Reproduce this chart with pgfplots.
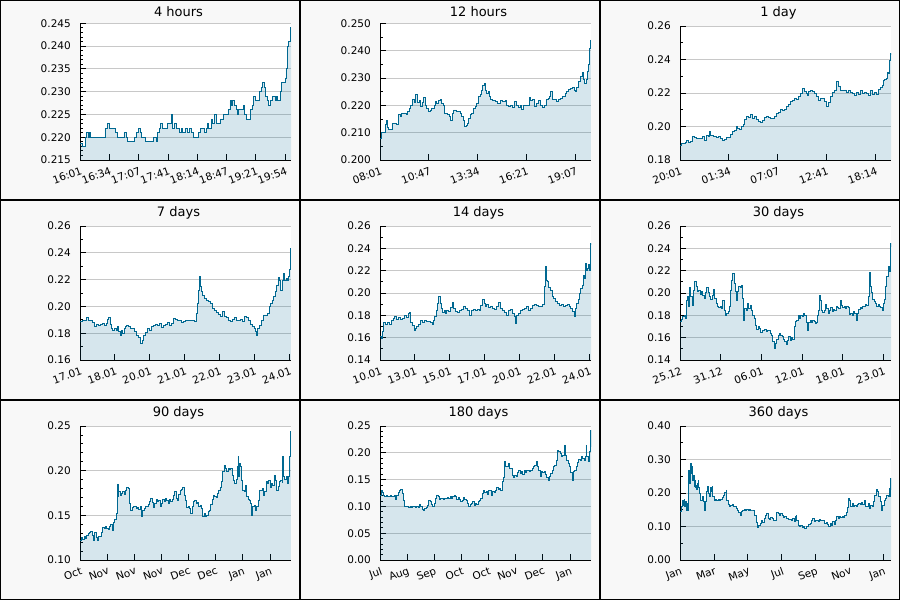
\documentclass[border=0pt]{standalone}
\usepackage{fontspec}
\setmainfont{DejaVu Sans}
\usepackage{pgfplots}
\usepackage{pgfplotstable}
\pgfplotsset{compat=1.18}

\definecolor{lineblue}{RGB}{0,104,145}
\definecolor{panelbg}{RGB}{248,248,248}
\definecolor{gridgray}{RGB}{200,200,200}

% 4 hours (x in minutes from 16:01)
\pgfplotstableread{
x y
0 0.2187
3.0 0.2180
5.7 0.2200
7.6 0.2210
9.5 0.2200
10.6 0.2210
12.1 0.2200
28.4 0.2220
31.1 0.2230
33.4 0.2220
39.8 0.2210
42.5 0.2200
50.0 0.2210
52.3 0.2200
54.2 0.2190
61.8 0.2200
63.7 0.2210
66.4 0.2220
68.2 0.2210
70.1 0.2200
74.3 0.2190
83.4 0.2200
86.4 0.2190
88.0 0.2210
90.2 0.2220
91.8 0.2230
93.3 0.2220
99.3 0.2230
103.9 0.2250
105.4 0.2220
107.7 0.2230
110.0 0.2220
113.0 0.2210
115.6 0.2220
116.8 0.2210
119.4 0.2220
122.1 0.2210
124.4 0.2220
126.6 0.2210
128.9 0.2200
134.6 0.2210
136.5 0.2220
141.0 0.2210
143.3 0.2220
144.8 0.2230
146.4 0.2220
149.8 0.2240
150.9 0.2230
152.8 0.2250
154.7 0.2230
159.2 0.2240
163.0 0.2250
168.3 0.2260
170.6 0.2280
172.1 0.2270
173.7 0.2280
175.5 0.2270
177.4 0.2260
179.0 0.2250
180.5 0.2260
186.2 0.2270
187.3 0.2250
188.8 0.2240
193.4 0.2260
195.6 0.2270
197.2 0.2290
199.1 0.2280
204.0 0.2300
205.9 0.2310
207.8 0.2320
209.7 0.2310
211.2 0.2290
213.1 0.2280
214.6 0.2270
216.9 0.2280
218.4 0.2290
222.2 0.2280
222.9 0.2290
224.5 0.2280
228.2 0.2300
229.4 0.2320
233.2 0.2330
234.3 0.2350
235.8 0.2400
237.0 0.2410
239.2 0.2440
240 0.2440
}\tabA

% 12 hours (x in minutes from 08:01)
\pgfplotstableread{
x y
0 0.2080
5.7 0.2100
17.1 0.2130
20.5 0.2146
25.0 0.2120
28.4 0.2110
40.9 0.2134
56.9 0.2130
62.6 0.2165
68.2 0.2160
73.9 0.2170
81.9 0.2172
88.7 0.2165
93.3 0.2177
100.1 0.2190
104.6 0.2200
111.5 0.2220
116.0 0.2210
121.7 0.2238
127.4 0.2210
134.2 0.2217
138.8 0.2195
143.3 0.2210
147.9 0.2228
153.5 0.2200
159.2 0.2189
166.1 0.2177
170.6 0.2183
175.2 0.2190
184.3 0.2201
188.8 0.2213
193.4 0.2207
200.2 0.2217
204.7 0.2220
210.4 0.2207
216.1 0.2198
220.7 0.2171
229.8 0.2165
236.6 0.2159
241.2 0.2146
245.7 0.2171
250.2 0.2183
261.6 0.2177
273.0 0.2171
278.7 0.2159
284.4 0.2144
288.9 0.2122
293.5 0.2128
298.0 0.2134
302.6 0.2152
307.1 0.2165
312.8 0.2172
318.5 0.2189
324.2 0.2195
329.8 0.2207
335.5 0.2232
341.2 0.2238
346.9 0.2256
350.3 0.2271
354.9 0.2281
359.4 0.2256
364.0 0.2244
368.5 0.2250
373.1 0.2232
377.6 0.2222
384.4 0.2217
392.4 0.2213
400.4 0.2207
409.5 0.2217
418.6 0.2213
426.5 0.2217
432.2 0.2198
439.0 0.2195
445.9 0.2198
452.7 0.2193
457.3 0.2213
464.1 0.2198
470.9 0.2193
477.7 0.2201
483.4 0.2186
489.1 0.2198
495.9 0.2201
502.7 0.2198
509.6 0.2229
514.1 0.2217
520.9 0.2220
527.7 0.2195
534.6 0.2207
541.4 0.2217
545.9 0.2198
552.8 0.2193
559.6 0.2201
566.4 0.2220
573.2 0.2226
577.8 0.2232
582.3 0.2250
586.8 0.2220
600.5 0.2213
608.5 0.2222
614.2 0.2226
621.0 0.2232
631.2 0.2244
636.9 0.2250
643.7 0.2259
650.6 0.2262
657.4 0.2265
661.9 0.2256
666.5 0.2250
671.0 0.2265
677.8 0.2287
684.7 0.2305
689.2 0.2320
693.8 0.2293
698.3 0.2281
702.9 0.2293
707.4 0.2323
712.0 0.2348
715.4 0.2409
717.7 0.2439
720 0.2439
}\tabB

% 1 day (x in hours from 20:01)
\pgfplotstableread{
x y
0 0.1884
0.19 0.1896
0.38 0.1896
0.61 0.1904
0.76 0.1915
0.95 0.1904
1.21 0.1909
1.36 0.1939
1.59 0.1935
1.90 0.1929
2.27 0.1929
2.58 0.1939
2.73 0.1919
2.96 0.1949
3.18 0.1943
3.34 0.1973
3.49 0.1949
3.79 0.1939
4.09 0.1933
4.36 0.1943
4.63 0.1929
4.85 0.1919
5.08 0.1923
5.31 0.1935
5.54 0.1935
5.76 0.1955
5.99 0.1969
6.22 0.1979
6.37 0.1999
6.56 0.1989
6.75 0.1983
6.98 0.1999
7.20 0.2015
7.36 0.2043
7.58 0.2059
7.81 0.2055
8.04 0.2069
8.27 0.2049
8.49 0.2063
8.72 0.2043
8.95 0.2029
9.18 0.2023
9.40 0.2039
9.63 0.2055
9.86 0.2063
10.09 0.2055
10.31 0.2049
10.54 0.2049
10.77 0.2063
11.00 0.2075
11.22 0.2083
11.45 0.2103
11.68 0.2095
11.91 0.2099
12.13 0.2118
12.36 0.2134
12.59 0.2148
12.82 0.2158
13.04 0.2168
13.27 0.2162
13.50 0.2182
13.73 0.2198
13.95 0.2228
14.10 0.2208
14.33 0.2198
14.48 0.2188
14.63 0.2208
14.86 0.2214
15.09 0.2208
15.32 0.2198
15.55 0.2178
15.77 0.2158
16.00 0.2168
16.23 0.2168
16.46 0.2148
16.68 0.2122
16.91 0.2142
17.14 0.2178
17.37 0.2202
17.59 0.2218
17.82 0.2268
18.05 0.2242
18.27 0.2214
18.50 0.2214
18.73 0.2218
18.96 0.2202
19.18 0.2214
19.41 0.2202
19.64 0.2198
19.87 0.2188
20.09 0.2202
20.32 0.2194
20.55 0.2214
20.78 0.2198
21.00 0.2202
21.23 0.2198
21.46 0.2188
21.69 0.2214
21.91 0.2194
22.14 0.2202
22.37 0.2194
22.60 0.2222
22.75 0.2234
22.98 0.2248
23.13 0.2274
23.28 0.2282
23.43 0.2288
23.58 0.2321
23.73 0.2317
23.85 0.2397
23.92 0.2437
24.0 0.2427
}\tabC

% 7 days (x in days from 17.01)
\pgfplotstableread{
x y
0 0.1886
0.088 0.1893
0.166 0.1898
0.221 0.1918
0.276 0.1898
0.354 0.1893
0.420 0.1883
0.464 0.1854
0.531 0.1869
0.597 0.1861
0.663 0.1869
0.730 0.1873
0.796 0.1861
0.863 0.1873
0.907 0.1903
0.951 0.1918
0.995 0.1869
1.039 0.1836
1.084 0.1819
1.128 0.1836
1.194 0.1824
1.238 0.1849
1.283 0.1811
1.327 0.1786
1.371 0.1824
1.415 0.1799
1.460 0.1836
1.504 0.1849
1.548 0.1859
1.614 0.1849
1.681 0.1836
1.747 0.1836
1.814 0.1811
1.880 0.1786
1.946 0.1769
1.990 0.1749
2.013 0.1724
2.057 0.1749
2.101 0.1786
2.167 0.1804
2.234 0.1836
2.300 0.1824
2.366 0.1849
2.433 0.1859
2.499 0.1869
2.565 0.1861
2.632 0.1873
2.698 0.1844
2.765 0.1861
2.831 0.1869
2.897 0.1878
2.964 0.1861
3.030 0.1873
3.096 0.1911
3.162 0.1903
3.229 0.1893
3.295 0.1898
3.362 0.1878
3.428 0.1886
3.494 0.1893
3.561 0.1893
3.627 0.1898
3.693 0.1893
3.760 0.1893
3.804 0.1886
3.848 0.1948
3.892 0.2023
3.926 0.2122
3.959 0.2222
3.981 0.2147
4.025 0.2110
4.069 0.2085
4.114 0.2060
4.180 0.2048
4.246 0.2035
4.313 0.2023
4.379 0.1985
4.445 0.1973
4.512 0.1953
4.578 0.1943
4.644 0.1923
4.711 0.1961
4.777 0.1923
4.843 0.1918
4.910 0.1893
4.976 0.1886
5.042 0.1903
5.109 0.1918
5.175 0.1893
5.242 0.1898
5.308 0.1903
5.374 0.1886
5.441 0.1923
5.507 0.1918
5.573 0.1898
5.640 0.1869
5.706 0.1849
5.772 0.1836
5.817 0.1811
5.850 0.1786
5.883 0.1836
5.949 0.1861
6.016 0.1893
6.082 0.1936
6.148 0.1936
6.215 0.1948
6.281 0.2003
6.325 0.2023
6.369 0.2048
6.414 0.2073
6.480 0.2110
6.524 0.2160
6.568 0.2217
6.613 0.2197
6.657 0.2122
6.701 0.2197
6.745 0.2247
6.790 0.2192
6.834 0.2209
6.878 0.2197
6.922 0.2222
6.944 0.2277
6.967 0.2296
6.978 0.2433
7.0 0.2433
}\tabD

% 14 days (x in days from 10.01)
\pgfplotstableread{
x y
0 0.1609
0.088 0.1594
0.177 0.1654
0.221 0.1734
0.354 0.1722
0.487 0.1734
0.619 0.1722
0.752 0.1752
0.885 0.1773
0.973 0.1794
1.062 0.1764
1.194 0.1782
1.327 0.1764
1.460 0.1773
1.592 0.1803
1.725 0.1782
1.858 0.1818
1.946 0.1824
2.035 0.1734
2.167 0.1713
2.256 0.1663
2.344 0.1684
2.433 0.1699
2.521 0.1722
2.654 0.1752
2.787 0.1734
2.919 0.1752
3.052 0.1743
3.185 0.1743
3.318 0.1734
3.450 0.1722
3.539 0.1752
3.627 0.1788
3.716 0.1848
3.804 0.1907
3.893 0.1967
3.981 0.1907
4.070 0.1863
4.158 0.1824
4.246 0.1842
4.335 0.1818
4.423 0.1848
4.512 0.1833
4.645 0.1872
4.777 0.1913
4.866 0.1863
4.998 0.1833
5.131 0.1824
5.264 0.1842
5.397 0.1854
5.529 0.1884
5.662 0.1863
5.795 0.1848
5.927 0.1803
6.060 0.1848
6.193 0.1854
6.325 0.1848
6.458 0.1854
6.591 0.1848
6.679 0.1893
6.812 0.1943
6.900 0.1907
6.989 0.1878
7.077 0.1901
7.210 0.1872
7.343 0.1884
7.476 0.1863
7.608 0.1854
7.741 0.1878
7.874 0.1913
7.962 0.1863
8.095 0.1848
8.228 0.1824
8.360 0.1803
8.493 0.1848
8.626 0.1854
8.758 0.1818
8.891 0.1788
8.980 0.1728
9.068 0.1803
9.201 0.1818
9.333 0.1848
9.466 0.1854
9.599 0.1863
9.731 0.1878
9.864 0.1848
9.997 0.1863
10.130 0.1893
10.262 0.1901
10.395 0.1893
10.528 0.1884
10.660 0.1884
10.793 0.1901
10.882 0.2057
10.970 0.2236
11.014 0.2116
11.103 0.2101
11.191 0.2051
11.280 0.2027
11.412 0.1967
11.501 0.1952
11.634 0.1922
11.766 0.1907
11.899 0.1893
12.032 0.1901
12.164 0.1884
12.297 0.1893
12.430 0.1901
12.562 0.1884
12.651 0.1863
12.784 0.1833
12.872 0.1794
12.961 0.1863
13.049 0.1907
13.137 0.1943
13.226 0.1997
13.314 0.2042
13.403 0.2072
13.491 0.2161
13.580 0.2131
13.624 0.2266
13.668 0.2206
13.757 0.2221
13.845 0.2260
13.889 0.2200
13.934 0.2281
13.956 0.2445
14 0.2430
}\tabE

% 30 days (x in days from 25.12)
\pgfplotstableread{
x y
0 0.1743
0.190 0.1764
0.379 0.1788
0.664 0.1803
0.758 0.1773
0.853 0.1937
1.043 0.1967
1.137 0.1878
1.327 0.2051
1.517 0.1967
1.706 0.1893
1.896 0.2027
2.085 0.2101
2.275 0.2057
2.464 0.2012
2.654 0.2027
2.844 0.1991
3.033 0.2012
3.223 0.1982
3.412 0.1952
3.602 0.2003
3.791 0.2051
3.981 0.2003
4.171 0.1967
4.360 0.1943
4.550 0.1982
4.739 0.2033
4.929 0.1952
5.118 0.1907
5.308 0.1884
5.498 0.1872
5.687 0.1878
5.877 0.1863
6.066 0.1937
6.256 0.1848
6.445 0.1803
6.635 0.1818
6.825 0.1833
7.014 0.1884
7.109 0.2027
7.299 0.2116
7.488 0.2176
7.678 0.2087
7.867 0.2012
7.962 0.1937
8.152 0.2012
8.341 0.2063
8.531 0.2051
8.720 0.2072
8.910 0.1952
9.005 0.1758
9.194 0.1863
9.384 0.1848
9.573 0.1907
9.763 0.1863
9.953 0.1893
10.142 0.1848
10.332 0.1803
10.521 0.1773
10.711 0.1713
10.900 0.1675
11.090 0.1699
11.280 0.1684
11.469 0.1645
11.659 0.1663
11.848 0.1663
12.038 0.1675
12.227 0.1654
12.417 0.1669
12.607 0.1663
12.796 0.1639
12.986 0.1624
13.175 0.1564
13.365 0.1504
13.554 0.1549
13.744 0.1585
13.934 0.1624
14.123 0.1639
14.313 0.1624
14.502 0.1609
14.692 0.1585
14.882 0.1564
15.071 0.1543
15.261 0.1579
15.450 0.1609
15.640 0.1579
15.829 0.1603
16.019 0.1585
16.209 0.1699
16.398 0.1743
16.588 0.1758
16.777 0.1803
16.967 0.1773
17.156 0.1803
17.346 0.1788
17.536 0.1818
17.725 0.1803
17.915 0.1734
18.104 0.1669
18.294 0.1734
18.483 0.1752
18.673 0.1734
18.863 0.1758
19.052 0.1743
19.242 0.1728
19.431 0.1734
19.526 0.1803
19.716 0.1848
19.810 0.1982
19.905 0.1937
20.095 0.1848
20.284 0.1824
20.474 0.1848
20.664 0.1901
20.853 0.1863
21.043 0.1818
21.232 0.1848
21.422 0.1872
21.611 0.1833
21.801 0.1854
21.991 0.1848
22.180 0.1878
22.370 0.1872
22.559 0.1863
22.749 0.1937
22.938 0.1893
23.128 0.1872
23.318 0.1884
23.507 0.1863
23.697 0.1884
23.886 0.1872
24.076 0.1812
24.265 0.1818
24.455 0.1803
24.645 0.1833
24.834 0.1818
25.024 0.1758
25.213 0.1818
25.403 0.1854
25.592 0.1872
25.782 0.1863
25.972 0.1884
26.161 0.1878
26.351 0.1901
26.540 0.1893
26.730 0.1907
26.825 0.1967
26.919 0.2182
27.014 0.2057
27.204 0.2003
27.393 0.1943
27.583 0.1922
27.773 0.1907
27.962 0.1884
28.152 0.1901
28.341 0.1878
28.531 0.1872
28.720 0.1842
28.910 0.1907
29.100 0.1943
29.194 0.2057
29.384 0.2152
29.573 0.2170
29.668 0.2236
29.763 0.2191
29.858 0.2325
29.905 0.2445
30 0.2415
}\tabF

% 90 days (x in days)
\pgfplotstableread{
x y
0 0.1224
0.569 0.1254
1.137 0.1231
1.706 0.1261
2.275 0.1243
2.844 0.1280
3.412 0.1299
3.981 0.1306
4.550 0.1317
5.118 0.1280
5.687 0.1224
6.256 0.1306
6.825 0.1254
7.393 0.1224
7.962 0.1261
8.531 0.1261
9.100 0.1306
9.668 0.1366
10.237 0.1354
10.806 0.1373
11.374 0.1354
11.943 0.1343
12.512 0.1381
13.081 0.1403
13.649 0.1328
14.218 0.1418
14.787 0.1455
15.355 0.1466
15.640 0.1522
15.924 0.1851
16.209 0.1709
16.493 0.1765
17.062 0.1728
17.630 0.1746
18.199 0.1765
18.768 0.1739
19.336 0.1784
19.905 0.1813
20.474 0.1802
21.043 0.1634
21.611 0.1560
22.180 0.1590
22.749 0.1597
23.318 0.1605
23.886 0.1578
24.455 0.1590
25.024 0.1567
25.592 0.1597
26.161 0.1493
26.730 0.1560
27.299 0.1578
27.867 0.1605
28.436 0.1597
29.005 0.1627
29.573 0.1653
30.142 0.1690
30.711 0.1642
31.280 0.1590
31.848 0.1634
32.417 0.1679
32.986 0.1653
33.555 0.1672
34.123 0.1605
34.692 0.1634
35.261 0.1679
35.829 0.1653
36.398 0.1690
36.967 0.1672
37.536 0.1634
38.104 0.1679
38.673 0.1653
39.242 0.1679
39.810 0.1728
40.379 0.1765
40.948 0.1690
41.517 0.1672
42.085 0.1739
42.654 0.1776
43.223 0.1791
43.791 0.1813
44.360 0.1728
44.929 0.1664
45.498 0.1590
46.066 0.1605
46.635 0.1578
47.204 0.1522
47.773 0.1597
48.341 0.1653
48.910 0.1672
49.479 0.1634
50.047 0.1642
50.616 0.1605
51.185 0.1616
51.754 0.1578
52.322 0.1493
52.891 0.1522
53.460 0.1485
54.028 0.1504
54.597 0.1541
55.166 0.1560
55.735 0.1627
56.303 0.1679
56.872 0.1728
57.441 0.1709
58.009 0.1702
58.578 0.1746
59.147 0.1784
59.716 0.1813
60.284 0.1877
60.853 0.1989
61.422 0.2063
61.991 0.2026
62.559 0.1989
63.128 0.2026
63.697 0.2015
64.265 0.2026
64.834 0.1951
65.403 0.1896
65.972 0.1858
66.540 0.1903
67.109 0.2045
67.393 0.2157
67.678 0.1933
67.962 0.2082
68.246 0.2045
68.815 0.1896
69.384 0.1784
69.953 0.1765
70.521 0.1840
71.090 0.1709
71.659 0.1679
72.227 0.1672
72.796 0.1634
73.223 0.1504
73.649 0.1597
74.218 0.1616
74.787 0.1560
75.355 0.1605
75.924 0.1672
76.493 0.1784
77.062 0.1776
77.630 0.1802
78.199 0.1728
78.768 0.1765
79.336 0.1877
79.905 0.1858
80.474 0.1888
81.043 0.1813
81.611 0.1858
82.180 0.1840
82.749 0.1951
83.318 0.1896
83.886 0.1784
84.455 0.1828
85.024 0.1877
85.592 0.1896
86.161 0.1866
86.445 0.2157
86.730 0.1933
87.299 0.1903
87.867 0.1933
88.436 0.1858
89.005 0.1940
89.289 0.2157
89.716 0.2437
90 0.2381
}\tabG

% 180 days (x in days)
\pgfplotstableread{
x y
0 0.1213
0.85 0.1294
1.71 0.1256
2.84 0.1213
3.98 0.1182
5.12 0.1213
6.26 0.1182
7.39 0.1194
8.53 0.1213
9.67 0.1182
10.81 0.1182
11.94 0.1213
13.08 0.1132
14.22 0.1213
15.36 0.1256
16.49 0.1306
17.63 0.1318
18.77 0.1244
19.91 0.1119
21.04 0.1007
22.18 0.0995
23.32 0.1007
24.46 0.0983
25.59 0.1007
26.73 0.0983
27.87 0.0995
29.00 0.1007
30.14 0.0983
31.28 0.1007
32.42 0.0983
33.55 0.1045
34.69 0.0995
35.83 0.0945
36.97 0.0933
38.10 0.0964
39.24 0.0983
40.38 0.1026
41.52 0.1119
42.65 0.1088
43.79 0.1045
44.93 0.1007
46.07 0.1057
47.20 0.1150
48.34 0.1213
49.48 0.1182
50.62 0.1132
51.75 0.1150
52.89 0.1150
54.03 0.1132
55.17 0.1150
56.30 0.1150
57.44 0.1169
58.58 0.1150
59.72 0.1182
60.85 0.1150
61.99 0.1194
63.13 0.1213
64.27 0.1182
65.40 0.1132
66.54 0.1169
67.68 0.1132
68.82 0.1088
69.95 0.1119
71.09 0.1169
72.23 0.1132
73.37 0.1119
74.50 0.1057
75.64 0.1007
76.78 0.1045
77.92 0.1057
79.05 0.1088
80.19 0.1026
81.33 0.1057
82.46 0.1045
83.60 0.1088
84.74 0.1119
85.88 0.1150
87.01 0.1244
88.15 0.1294
89.29 0.1256
90.43 0.1275
91.56 0.1231
92.70 0.1294
93.84 0.1306
94.98 0.1213
96.11 0.1275
97.25 0.1256
98.39 0.1306
99.53 0.1356
100.66 0.1318
101.80 0.1337
102.94 0.1306
104.08 0.1461
105.21 0.1542
105.78 0.1835
106.92 0.1741
108.06 0.1754
109.19 0.1803
110.33 0.1710
111.47 0.1710
112.61 0.1586
113.74 0.1542
114.88 0.1586
116.02 0.1555
117.16 0.1629
118.29 0.1667
119.43 0.1617
120.57 0.1648
121.71 0.1604
122.84 0.1667
123.98 0.1629
125.12 0.1667
126.26 0.1679
127.39 0.1648
128.53 0.1679
129.67 0.1710
130.80 0.1754
131.94 0.1772
133.08 0.1835
134.22 0.1741
135.35 0.1667
136.49 0.1567
137.63 0.1648
138.77 0.1629
139.90 0.1648
141.04 0.1604
142.18 0.1542
143.32 0.1480
144.45 0.1555
145.59 0.1617
146.73 0.1667
147.87 0.1741
149.00 0.1772
150.14 0.1866
151.28 0.2040
152.42 0.2021
153.55 0.1990
154.69 0.1928
155.83 0.1959
156.97 0.2052
157.53 0.2146
158.10 0.1959
159.24 0.1866
160.38 0.1803
161.52 0.1741
162.65 0.1629
163.79 0.1493
164.93 0.1648
166.07 0.1679
167.20 0.1741
168.34 0.1816
169.48 0.1878
170.62 0.1866
171.75 0.1928
172.89 0.1897
174.03 0.1866
175.17 0.1928
175.73 0.2146
176.30 0.1928
177.44 0.1928
178.01 0.1835
178.58 0.2021
179.43 0.2425
180 0.2114
}\tabH

% 360 days (x in days)
\pgfplotstableread{
x y
0 0.1443
1.71 0.1592
3.41 0.1711
4.55 0.1791
5.69 0.1642
6.82 0.1811
7.96 0.1592
9.10 0.1741
10.24 0.1493
11.37 0.1692
12.51 0.1493
13.65 0.1990
14.79 0.2687
15.92 0.2289
17.06 0.2488
18.20 0.2886
19.34 0.2587
20.47 0.2786
21.61 0.2388
22.75 0.2537
23.89 0.2209
25.02 0.2388
26.16 0.2169
27.30 0.2239
28.44 0.2109
29.57 0.2289
30.71 0.2388
31.85 0.2169
32.99 0.1990
34.12 0.1891
35.26 0.1791
37.54 0.1891
39.81 0.1741
40.95 0.1612
42.09 0.1493
43.22 0.1741
44.36 0.1891
45.50 0.2040
46.64 0.2189
47.77 0.2209
48.91 0.1990
50.05 0.1891
51.19 0.2090
52.32 0.2169
53.46 0.2040
54.60 0.2189
55.74 0.1891
58.01 0.1791
60.29 0.1811
62.56 0.1771
64.83 0.1811
67.11 0.1791
69.38 0.1811
71.66 0.1871
73.93 0.1940
76.21 0.2010
78.48 0.2090
79.62 0.1791
81.90 0.1672
84.17 0.1612
86.45 0.1642
88.72 0.1672
91.00 0.1592
93.27 0.1612
95.55 0.1542
97.82 0.1493
100.10 0.1413
102.37 0.1343
104.64 0.1443
106.92 0.1493
109.19 0.1512
111.47 0.1493
113.74 0.1512
116.02 0.1493
118.29 0.1512
120.57 0.1493
122.84 0.1493
125.12 0.1473
127.39 0.1343
129.67 0.1294
130.81 0.1114
131.94 0.0975
134.22 0.1045
136.49 0.1095
138.77 0.1174
141.04 0.1114
143.32 0.1244
145.59 0.1343
147.87 0.1393
150.14 0.1244
152.42 0.1214
154.69 0.1274
156.97 0.1244
159.24 0.1194
161.52 0.1174
163.79 0.1294
164.93 0.1413
167.20 0.1393
169.48 0.1343
171.75 0.1393
174.03 0.1343
176.30 0.1274
178.58 0.1294
180.85 0.1244
183.13 0.1244
185.40 0.1214
187.68 0.1214
189.95 0.1194
192.23 0.1244
194.50 0.1144
196.78 0.1294
197.91 0.1343
199.05 0.1174
201.33 0.1045
203.60 0.1015
205.88 0.1045
208.15 0.0975
210.43 0.0995
212.70 0.0945
214.98 0.0995
217.25 0.1015
219.53 0.1075
221.80 0.1095
224.08 0.1174
226.35 0.1244
228.63 0.1144
230.90 0.1174
233.18 0.1174
235.45 0.1144
237.73 0.1214
240.00 0.1174
242.28 0.1194
244.55 0.1174
246.83 0.1095
249.10 0.1114
251.38 0.1075
253.65 0.1015
255.93 0.1095
258.20 0.1045
260.48 0.1144
262.75 0.1075
265.03 0.1174
267.30 0.1294
269.57 0.1244
271.85 0.1313
274.12 0.1274
276.40 0.1313
278.67 0.1274
280.95 0.1343
283.22 0.1413
285.50 0.1572
286.64 0.1841
288.91 0.1791
291.19 0.1592
293.46 0.1692
295.74 0.1612
298.01 0.1642
300.29 0.1612
302.56 0.1672
304.84 0.1692
307.11 0.1672
309.39 0.1711
311.66 0.1672
313.94 0.1791
316.21 0.1612
318.48 0.1592
320.76 0.1692
323.03 0.1542
325.31 0.1642
327.58 0.1612
329.86 0.1741
332.13 0.1940
334.41 0.2109
336.68 0.2040
338.96 0.1891
341.23 0.1741
343.51 0.1493
345.78 0.1642
348.06 0.1791
350.33 0.1841
352.61 0.1940
354.88 0.1891
357.16 0.2139
358.29 0.1910
358.86 0.2438
360 0.2100
}\tabI

\pgfplotsset{
  panel/.style={
    scale only axis, width=211pt, anchor=south west,
    axis x line*=bottom, axis y line*=left,
    axis line style={black, line width=0.8pt},
    enlargelimits=false, clip=true,
    axis background/.style={fill=white},
    ymajorgrids, major grid style={gridgray, line width=0.8pt},
    major tick length=6pt, minor tick length=3pt,
    tick style={black, line width=0.8pt},
    tick align=inside,
    scaled y ticks=false,
    /pgf/number format/assume math mode=true,
    tick label style={font=\fontsize{10.5}{12}\selectfont},
    yticklabel style={anchor=east, inner sep=0pt, xshift=-9pt,
      /pgf/number format/fixed, /pgf/number format/fixed zerofill,
      /pgf/number format/precision=2},
    xticklabel style={rotate=20, anchor=north east, inner sep=0pt,
      xshift=-2pt, yshift=-6pt},
  },
  three/.style={yticklabel style={/pgf/number format/precision=3}},
  areafill/.style={const plot, fill=lineblue, fill opacity=0.16, draw=none, forget plot},
  priceline/.style={const plot, lineblue, line width=0.9pt, mark=none},
}

\newcommand{\paneltitle}[3]{%
  \node[anchor=base, font=\fontsize{13}{15}\selectfont] at (#1pt+178.5pt, -#2pt-16pt) {#3};}

\begin{document}
\begin{tikzpicture}
\useasboundingbox (0,0) rectangle (900pt,-600pt);
\fill[panelbg] (0,0) rectangle (900pt,-600pt);
\foreach \i in {0,300,600}{
  \foreach \j in {0,200,400}{
    \draw[black, line width=1pt] (\i pt+0.5pt, -\j pt-0.5pt) rectangle (\i pt+299.5pt, -\j pt-199.5pt);
  }
}

% ---------- row 1 ----------
\begin{axis}[panel, three, at={(80pt,-160pt)}, height=136.7pt,
  xmin=0, xmax=240, ymin=0.215, ymax=0.245,
  ytick={0.215,0.220,0.225,0.230,0.235,0.240,0.245}, minor y tick num=4,
  xtick={0,33.333,66.667,100,133.333,166.667,200,233.333},
  xticklabels={16:01,16:34,17:07,17:41,18:14,18:47,19:21,19:54}]
\addplot[areafill] table {\tabA} \closedcycle;
\addplot[priceline] table {\tabA};
\end{axis}
\paneltitle{0}{0}{4 hours}

\begin{axis}[panel, three, at={(380pt,-160pt)}, height=136.7pt,
  xmin=0, xmax=720, ymin=0.200, ymax=0.250,
  ytick={0.200,0.210,0.220,0.230,0.240,0.250}, minor y tick num=1,
  xtick={0,166.667,333.333,500,666.667},
  xticklabels={08:01,10:47,13:34,16:21,19:07}]
\addplot[areafill] table {\tabB} \closedcycle;
\addplot[priceline] table {\tabB};
\end{axis}
\paneltitle{300}{0}{12 hours}

\begin{axis}[panel, at={(680pt,-160pt)}, height=134pt,
  xmin=0, xmax=24, ymin=0.18, ymax=0.26,
  ytick={0.18,0.20,0.22,0.24,0.26}, minor y tick num=1,
  xtick={0,5.5556,11.1111,16.6667,22.2222},
  xticklabels={20:01,01:34,07:07,12:41,18:14}]
\addplot[areafill] table {\tabC} \closedcycle;
\addplot[priceline] table {\tabC};
\end{axis}
\paneltitle{600}{0}{1 day}

% ---------- row 2 ----------
\begin{axis}[panel, at={(80pt,-360pt)}, height=134pt,
  xmin=0, xmax=7, ymin=0.16, ymax=0.26,
  ytick={0.16,0.18,0.20,0.22,0.24,0.26}, minor y tick num=1,
  xtick={0,1.1574,2.3148,3.4722,4.6296,5.7870,6.9444},
  xticklabels={17.01,18.01,20.01,21.01,22.01,23.01,24.01}]
\addplot[areafill] table {\tabD} \closedcycle;
\addplot[priceline] table {\tabD};
\end{axis}
\paneltitle{0}{200}{7 days}

\begin{axis}[panel, at={(380pt,-360pt)}, height=134pt,
  xmin=0, xmax=14, ymin=0.14, ymax=0.26,
  ytick={0.14,0.16,0.18,0.20,0.22,0.24,0.26}, minor y tick num=1,
  xtick={0,2.3148,4.6296,6.9444,9.2593,11.5741,13.8889},
  xticklabels={10.01,13.01,15.01,17.01,20.01,22.01,24.01}]
\addplot[areafill] table {\tabE} \closedcycle;
\addplot[priceline] table {\tabE};
\end{axis}
\paneltitle{300}{200}{14 days}

\begin{axis}[panel, at={(680pt,-360pt)}, height=134pt,
  xmin=0, xmax=30, ymin=0.14, ymax=0.26,
  ytick={0.14,0.16,0.18,0.20,0.22,0.24,0.26}, minor y tick num=1,
  xtick={0,5.787,11.574,17.361,23.148,28.935},
  xticklabels={25.12,31.12,06.01,12.01,18.01,23.01}]
\addplot[areafill] table {\tabF} \closedcycle;
\addplot[priceline] table {\tabF};
\end{axis}
\paneltitle{600}{200}{30 days}

% ---------- row 3 ----------
\begin{axis}[panel, at={(80pt,-560pt)}, height=134pt,
  xmin=0, xmax=90, ymin=0.10, ymax=0.25,
  ytick={0.10,0.15,0.20,0.25}, minor y tick num=4,
  xtick={0,11.574,23.148,34.722,46.296,57.870,69.444,81.019},
  xticklabels={Oct,Nov,Nov,Nov,Dec,Dec,Jan,Jan}]
\addplot[areafill] table {\tabG} \closedcycle;
\addplot[priceline] table {\tabG};
\end{axis}
\paneltitle{0}{400}{90 days}

\begin{axis}[panel, at={(380pt,-560pt)}, height=134pt,
  xmin=0, xmax=180, ymin=0, ymax=0.25,
  ytick={0,0.05,0.10,0.15,0.20,0.25}, minor y tick num=4,
  xtick={0,23.148,46.296,69.444,92.593,115.741,138.889,162.037},
  xticklabels={Jul,Aug,Sep,Oct,Oct,Nov,Dec,Jan}]
\addplot[areafill] table {\tabH} \closedcycle;
\addplot[priceline] table {\tabH};
\end{axis}
\paneltitle{300}{400}{180 days}

\begin{axis}[panel, at={(680pt,-560pt)}, height=134pt,
  xmin=0, xmax=360, ymin=0, ymax=0.40,
  ytick={0,0.10,0.20,0.30,0.40}, minor y tick num=1,
  xtick={0,57.87,115.74,173.61,231.48,289.35,347.22},
  xticklabels={Jan,Mar,May,Jul,Sep,Nov,Jan}]
\addplot[areafill] table {\tabI} \closedcycle;
\addplot[priceline] table {\tabI};
\end{axis}
\paneltitle{600}{400}{360 days}
\end{tikzpicture}
\end{document}
